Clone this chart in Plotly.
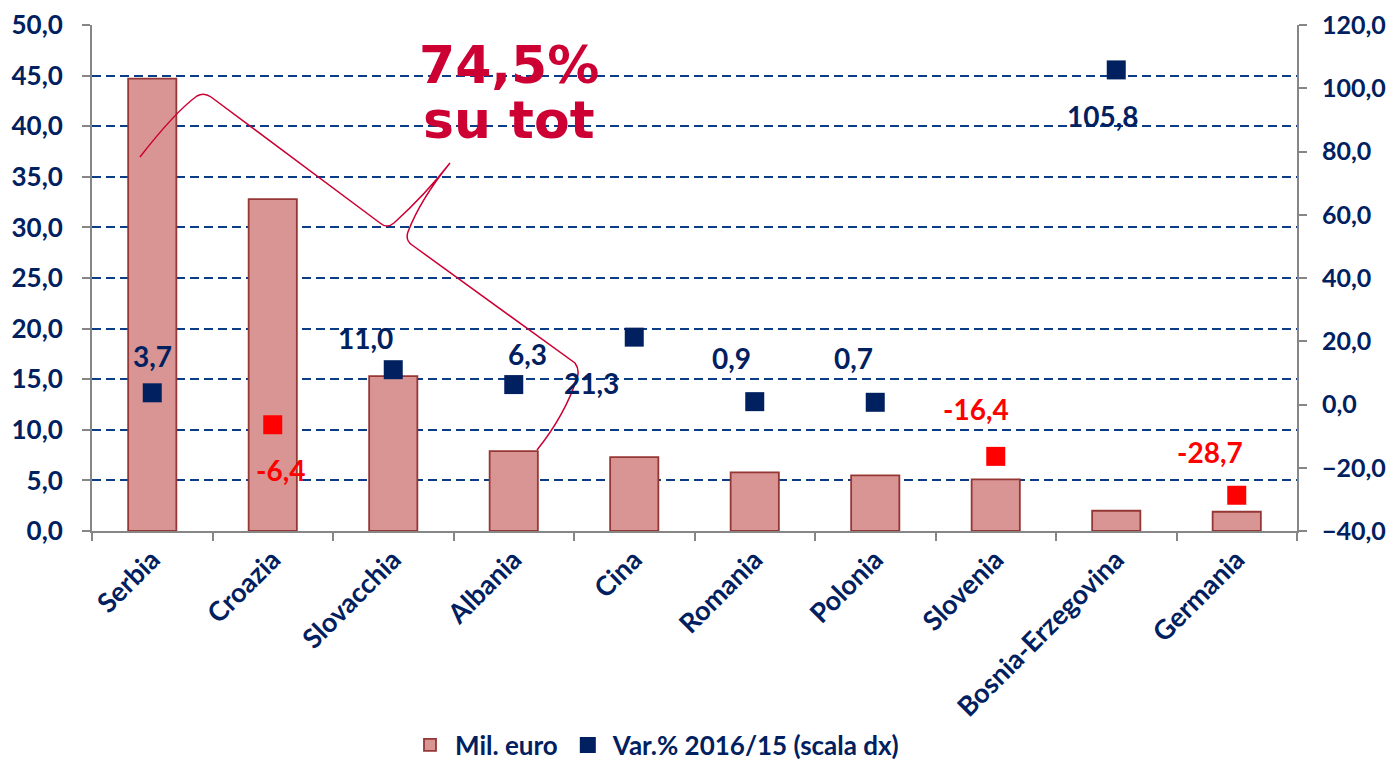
import plotly.graph_objects as go

categories = ["Serbia", "Croazia", "Slovacchia", "Albania", "Cina", "Romania",
              "Polonia", "Slovenia", "Bosnia-Erzegovina", "Germania"]
mil_euro = [44.7, 32.8, 15.3, 7.9, 7.3, 5.8, 5.5, 5.1, 2.0, 1.9]
var_pct = [3.7, -6.4, 11.0, 6.3, 21.3, 0.9, 0.7, -16.4, 105.8, -28.7]

# label offsets (pixels) relative to each marker
label_dx = [0, 8, -28, 14, -43, -23, -22, -20, -13, -27]
label_dy = [37, -45, 32, 31, -46, 44, 44, 47, -46, 43]

NAVY = "#002060"
RED = "#FF0000"
FONT = "Lato"

def fmt(v):
    return f"{v:.1f}".replace(".", ",")

pt_colors = [NAVY if v >= 0 else RED for v in var_pct]

fig = go.Figure()
fig.add_trace(go.Bar(
    x=categories, y=mil_euro, name="Mil. euro", width=0.4,
    marker=dict(color="#D99594", line=dict(color="#953735", width=1.8)),
    yaxis="y",
))
fig.add_trace(go.Scatter(
    x=categories, y=var_pct, name="Var.% 2016/15 (scala dx)", mode="markers",
    marker=dict(symbol="square", size=19, color=pt_colors),
    yaxis="y2",
))

annotations = []
for c, v, dx, dy, col in zip(categories, var_pct, label_dx, label_dy, pt_colors):
    annotations.append(dict(
        x=c, y=v, xref="x", yref="y2", text=fmt(v), showarrow=False,
        xanchor="center", yanchor="middle",
        xshift=dx, yshift=dy, font=dict(family=FONT, size=28, color=col, weight="bold"),
    ))

# page offset (body margin) = 8 px; figure placed at (8, 8)
OFF = 8
W, H = 1397 - OFF, 761 - OFF
L, R, T, B = 92, 1297, 25, 531   # plot area in window pixels

def px(x):
    return (x - L) / (R - L)
def py(y):
    return (B - y) / (B - T)

annotations.append(dict(x=px(509), y=py(65), xref="paper", yref="paper",
                        xanchor="center", yanchor="middle",
                        text="<b>74,5%</b>", showarrow=False,
                        font=dict(family="DejaVu Sans", size=52, color="#CC0033")))
annotations.append(dict(x=px(509), y=py(120), xref="paper", yref="paper",
                        xanchor="center", yanchor="middle",
                        text="<b>su tot</b>", showarrow=False,
                        font=dict(family="DejaVu Sans", size=52, color="#CC0033")))

def P(x, y):
    return f"{px(x):.4f},{py(y):.4f}"

path = (f"M {P(140,157)} Q {P(175,112)} {P(197,96)} Q {P(204,92)} {P(211,97)} "
        f"L {P(380,223)} Q {P(387,229)} {P(394,223)} Q {P(425,195)} {P(450,163)} "
        f"Q {P(420,200)} {P(408,232)} Q {P(405,240)} {P(412,245)} "
        f"L {P(575,363)} Q {P(580,370)} {P(577,378)} Q {P(565,415)} {P(537,450)}")

shapes = [dict(type="path", xref="paper", yref="paper", path=path,
               line=dict(color="#CC0033", width=1.5))]

tickfont = dict(family=FONT, size=26, color=NAVY, weight="bold")

fig.update_layout(
    width=W, height=H,
    margin=dict(l=L - OFF, r=W - (R - OFF), t=T - OFF, b=H - (B - OFF), autoexpand=False),
    paper_bgcolor="white", plot_bgcolor="white",
    separators=",.",
    font=dict(family=FONT, color=NAVY, weight="bold"),
    xaxis=dict(
        type="category", range=[-0.5, len(categories) - 0.5], tickangle=-45,
        tickson="boundaries",
        ticks="outside", ticklen=8, tickcolor="#868686", tickwidth=2,
        showline=True, linecolor="#868686", linewidth=2, automargin=False,
        showgrid=False, tickfont=dict(family=FONT, size=27, color=NAVY, weight="bold"),
    ),
    yaxis=dict(
        range=[0, 50], dtick=5, tickformat=".1f", automargin=False,
        ticks="outside", ticklen=8, tickcolor="#868686", tickwidth=2,
        showline=True, linecolor="#868686", linewidth=2,
        showgrid=True, gridcolor="#0B3D86", gridwidth=2, griddash="9px,5px",
        zeroline=False, tickfont=tickfont, ticklabelstandoff=14,
    ),
    yaxis2=dict(
        range=[-40, 120], dtick=20, tickformat=".1f", overlaying="y", side="right",
        ticks="outside", ticklen=8, tickcolor="#868686", tickwidth=2,
        showline=True, linecolor="#868686", linewidth=2, automargin=False,
        showgrid=False, zeroline=False,
        tickfont=dict(family=FONT, size=25, color=NAVY, weight="bold"),
        ticklabelstandoff=10,
    ),
    legend=dict(orientation="h", x=px(655), xanchor="center", y=py(745), yanchor="middle",
                font=dict(family=FONT, size=26, color=NAVY, weight="bold"), itemwidth=40),
    showlegend=True,
    annotations=annotations,
    shapes=shapes,
)

fig.write_html("out.html")
